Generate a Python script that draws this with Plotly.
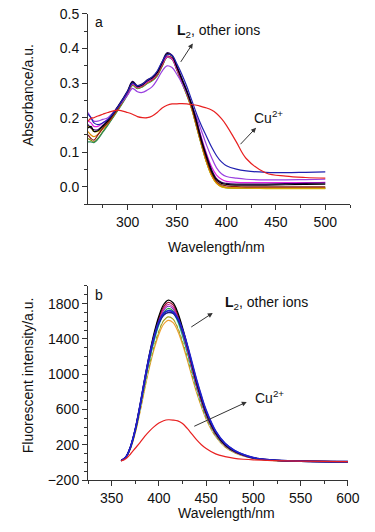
import plotly.graph_objects as go

# ---------------- Panel a: absorbance ----------------
wl_a = [260, 263, 266, 270, 275, 280, 290, 300, 305, 310, 315, 320, 325, 330, 335, 340, 345,
        350, 355, 360, 365, 370, 375, 380, 385, 390, 395, 400, 410, 420, 440, 460, 480, 500]

abs_black = [0.17, 0.175, 0.16, 0.162, 0.175, 0.19, 0.23, 0.275, 0.303, 0.29, 0.295, 0.307, 0.315, 0.33, 0.358, 0.385, 0.378,
             0.345, 0.31, 0.275, 0.235, 0.185, 0.13, 0.085, 0.045, 0.02, 0.01, 0.007, 0.005, 0.005, 0.005, 0.006, 0.007, 0.008]
abs_darkred = [0.15, 0.14, 0.135, 0.15, 0.17, 0.185, 0.225, 0.27, 0.298, 0.288, 0.292, 0.303, 0.31, 0.325, 0.352, 0.378, 0.372,
               0.34, 0.305, 0.27, 0.23, 0.178, 0.125, 0.078, 0.04, 0.016, 0.006, 0.003, 0.001, 0.0, 0.0, 0.0, 0.0, 0.0]
abs_olive = [0.14, 0.135, 0.13, 0.14, 0.16, 0.18, 0.222, 0.268, 0.295, 0.285, 0.29, 0.3, 0.308, 0.322, 0.35, 0.375, 0.37,
             0.338, 0.302, 0.266, 0.225, 0.172, 0.12, 0.072, 0.035, 0.012, 0.002, -0.002, -0.003, -0.003, -0.004, -0.004, -0.004, -0.004]
abs_yellow = [0.175, 0.17, 0.16, 0.16, 0.17, 0.185, 0.225, 0.27, 0.297, 0.287, 0.292, 0.302, 0.31, 0.325, 0.352, 0.377, 0.372,
              0.34, 0.303, 0.267, 0.226, 0.174, 0.12, 0.07, 0.032, 0.01, 0.0, -0.003, -0.004, -0.004, -0.005, -0.005, -0.005, -0.005]
abs_green = [0.13, 0.13, 0.128, 0.138, 0.158, 0.178, 0.22, 0.266, 0.293, 0.284, 0.289, 0.299, 0.307, 0.321, 0.349, 0.374, 0.369,
             0.337, 0.301, 0.265, 0.224, 0.171, 0.118, 0.07, 0.033, 0.011, 0.001, -0.003, -0.004, -0.004, -0.004, -0.004, -0.004, -0.004]
abs_orange = [0.16, 0.15, 0.145, 0.152, 0.168, 0.183, 0.224, 0.269, 0.296, 0.286, 0.291, 0.301, 0.309, 0.324, 0.351, 0.376, 0.371,
              0.339, 0.303, 0.267, 0.226, 0.173, 0.12, 0.071, 0.034, 0.011, 0.001, -0.002, -0.003, -0.003, -0.003, -0.003, -0.003, -0.003]
abs_indigo = [0.18, 0.17, 0.165, 0.165, 0.178, 0.192, 0.232, 0.278, 0.305, 0.293, 0.298, 0.31, 0.318, 0.333, 0.362, 0.388, 0.381,
              0.349, 0.314, 0.279, 0.239, 0.19, 0.136, 0.09, 0.05, 0.024, 0.013, 0.01, 0.008, 0.008, 0.008, 0.009, 0.01, 0.011]
abs_magenta = [0.19, 0.185, 0.175, 0.175, 0.185, 0.195, 0.23, 0.272, 0.298, 0.288, 0.293, 0.304, 0.312, 0.328, 0.355, 0.376, 0.37,
               0.34, 0.307, 0.273, 0.235, 0.19, 0.14, 0.095, 0.058, 0.034, 0.022, 0.016, 0.013, 0.012, 0.012, 0.012, 0.012, 0.013]
abs_navy = [0.21, 0.2, 0.185, 0.18, 0.185, 0.195, 0.23, 0.275, 0.3, 0.292, 0.297, 0.308, 0.318, 0.335, 0.362, 0.382, 0.38,
            0.355, 0.325, 0.29, 0.25, 0.21, 0.175, 0.145, 0.115, 0.09, 0.072, 0.061, 0.051, 0.046, 0.042, 0.041, 0.042, 0.043]
abs_violet = [0.215, 0.2, 0.19, 0.19, 0.195, 0.2, 0.23, 0.265, 0.285, 0.275, 0.273, 0.28, 0.29, 0.31, 0.335, 0.35, 0.345,
              0.325, 0.3, 0.27, 0.235, 0.2, 0.16, 0.12, 0.085, 0.055, 0.038, 0.03, 0.025, 0.022, 0.02, 0.02, 0.021, 0.022]
abs_cu = [0.19, 0.198, 0.2, 0.205, 0.21, 0.215, 0.222, 0.215, 0.21, 0.203, 0.2, 0.2, 0.205, 0.215, 0.228, 0.236, 0.24,
          0.24, 0.241, 0.24, 0.238, 0.236, 0.232, 0.228, 0.222, 0.212, 0.197, 0.178, 0.13, 0.082, 0.04, 0.031, 0.027, 0.025]

series_a = [
    (abs_olive, "#8b8b00"), (abs_green, "#2e8b57"), (abs_yellow, "#d4c400"), (abs_orange, "#e08a00"),
    (abs_darkred, "#8b1a1a"), (abs_magenta, "#e020e0"), (abs_violet, "#9a40e0"),
    (abs_indigo, "#2a0060"), (abs_black, "#000000"), (abs_navy, "#2020b0"), (abs_cu, "#e82020"),
]

# ---------------- Panel b: fluorescence ----------------
wl_b = [360, 365, 370, 375, 380, 385, 390, 395, 400, 405, 410, 415, 420, 425, 430, 435, 440, 445, 450,
        460, 470, 480, 490, 500, 520, 550, 600]

fl_black = [20, 60, 180, 380, 650, 950, 1230, 1470, 1660, 1790, 1840, 1810, 1700, 1530, 1330, 1110, 900, 720, 560, 335, 200, 125, 80, 50, 25, 14, 8]
fl_darkred = [20, 59, 177, 375, 641, 937, 1213, 1449, 1637, 1765, 1815, 1785, 1676, 1509, 1311, 1094, 887, 710, 552, 330, 197, 123, 79, 49, 25, 14, 8]
fl_magenta = [20, 58, 175, 370, 632, 924, 1197, 1430, 1615, 1742, 1790, 1761, 1654, 1489, 1294, 1080, 876, 701, 545, 326, 195, 122, 78, 49, 24, 14, 8]
fl_purple = [19, 58, 173, 366, 625, 914, 1183, 1414, 1597, 1722, 1770, 1741, 1635, 1472, 1279, 1068, 866, 693, 539, 322, 192, 120, 77, 48, 24, 13, 8]
fl_green = [19, 57, 171, 360, 616, 901, 1166, 1394, 1574, 1697, 1745, 1716, 1612, 1450, 1261, 1052, 853, 683, 531, 318, 190, 119, 76, 47, 24, 13, 8]
fl_cyan = [19, 56, 169, 356, 609, 891, 1153, 1378, 1556, 1678, 1725, 1697, 1594, 1434, 1247, 1041, 844, 675, 525, 314, 188, 117, 75, 47, 23, 13, 8]
fl_white = [18, 55, 164, 347, 593, 867, 1123, 1342, 1516, 1634, 1680, 1653, 1552, 1397, 1214, 1013, 822, 657, 511, 306, 183, 114, 73, 46, 23, 13, 7]
fl_olive = [18, 54, 161, 341, 583, 852, 1103, 1319, 1489, 1606, 1650, 1624, 1525, 1372, 1193, 996, 807, 646, 502, 300, 179, 112, 72, 45, 22, 13, 7]
fl_orange = [18, 53, 158, 333, 569, 831, 1076, 1286, 1453, 1566, 1610, 1584, 1488, 1339, 1164, 971, 788, 630, 490, 293, 175, 109, 70, 44, 22, 12, 7]
fl_navy = [20, 58, 172, 365, 630, 930, 1200, 1420, 1580, 1670, 1700, 1690, 1620, 1490, 1320, 1120, 920, 740, 580, 350, 212, 133, 85, 53, 26, 14, 8]
fl_blue = [20, 60, 178, 375, 645, 945, 1215, 1430, 1600, 1690, 1720, 1705, 1635, 1505, 1335, 1135, 935, 755, 592, 357, 215, 135, 86, 54, 26, 14, 8]
fl_cu = [15, 40, 95, 160, 225, 295, 355, 405, 445, 472, 483, 480, 470, 440, 385, 320, 255, 200, 158, 96, 65, 46, 35, 28, 20, 14, 9]

series_b = [
    (fl_orange, "#f0a030", 1.2, "solid"), (fl_olive, "#a0a020", 1.2, "solid"), (fl_white, "#f4f4ff", 1.2, "dot"),
    (fl_cyan, "#20c0d0", 1.2, "solid"), (fl_green, "#20a040", 1.2, "solid"), (fl_purple, "#8030c0", 1.2, "solid"),
    (fl_magenta, "#d020a0", 1.2, "solid"), (fl_darkred, "#a01030", 1.2, "solid"), (fl_black, "#000000", 1.2, "solid"),
    (fl_navy, "#1a1a80", 1.6, "solid"), (fl_blue, "#2020d0", 1.6, "solid"), (fl_cu, "#e82020", 1.2, "solid"),
]

fig = go.Figure()
for ys, col in series_a:
    fig.add_trace(go.Scatter(x=wl_a, y=ys, mode="lines", line=dict(color=col, width=1.2, shape="spline"),
                             xaxis="x", yaxis="y", showlegend=False, hoverinfo="skip"))
for ys, col, w, d in series_b:
    fig.add_trace(go.Scatter(x=wl_b, y=ys, mode="lines", line=dict(color=col, width=w, dash=d, shape="spline"),
                             xaxis="x2", yaxis="y2", showlegend=False, hoverinfo="skip"))

FONT = "Liberation Sans, Arial, sans-serif"
axis_common = dict(showline=True, linecolor="#333", linewidth=1, ticks="outside", ticklen=5, tickwidth=1,
                   tickcolor="#333", showgrid=False, zeroline=False, tickfont=dict(size=14, color="#111", family=FONT),
                   ticklabeloverflow="allow", automargin=False,
                   minor=dict(ticks="outside", ticklen=3, tickcolor="#333", showgrid=False))

# the page body has an 8px default margin: shift the margins to compensate
fig.update_layout(
    width=375, height=532, margin=dict(l=80, r=33, t=2, b=60, autoexpand=False),
    paper_bgcolor="white", plot_bgcolor="white", font=dict(family=FONT, size=14, color="#111"),
    xaxis=dict(axis_common, domain=[0, 1], range=[260, 525], tickvals=[300, 350, 400, 450, 500],
               minor=dict(axis_common["minor"], dtick=25, tick0=275), anchor="y"),
    yaxis=dict(axis_common, domain=[0.587, 0.9915], range=[-0.05, 0.5], tickvals=[0, 0.1, 0.2, 0.3, 0.4, 0.5],
               tickformat=".1f", minor=dict(axis_common["minor"], dtick=0.05, tick0=0), anchor="x"),
    xaxis2=dict(axis_common, domain=[0, 0.992], range=[325, 600], tickvals=[350, 400, 450, 500, 550, 600],
                minor=dict(axis_common["minor"], dtick=25, tick0=325), anchor="y2"),
    yaxis2=dict(axis_common, domain=[0, 0.4128], range=[-200, 2000], tickvals=[-200, 200, 600, 1000, 1400, 1800],
                minor=dict(axis_common["minor"], dtick=100, tick0=0), anchor="x2"),
)

C = dict(xanchor="center", yanchor="middle")
L = dict(xanchor="left", yanchor="middle")
arrow = dict(text="", showarrow=True, arrowhead=2, arrowsize=1, arrowwidth=1, arrowcolor="#333", axref="pixel", ayref="pixel")
ann = [
    # panel a
    dict(x=271, y=0.478, xref="x", yref="y", text="a", showarrow=False, font=dict(size=14), **C),
    dict(x=348, y=0.452, xref="x", yref="y", text="<b>L</b><sub>2</sub>, other ions", showarrow=False,
         font=dict(size=14), **L),
    dict(x=426, y=0.202, xref="x", yref="y", text="Cu<sup>2+</sup>", showarrow=False, font=dict(size=14), **L),
    dict(x=366, y=0.415, xref="x", yref="y", ax=-13, ay=20, **arrow),
    dict(x=430, y=0.171, xref="x", yref="y", ax=-17, ay=18, **arrow),
    # panel b
    dict(x=336.6, y=1898, xref="x2", yref="y2", text="b", showarrow=False, font=dict(size=14), **C),
    dict(x=468, y=1807, xref="x2", yref="y2", text="<b>L</b><sub>2</sub>, other ions", showarrow=False,
         font=dict(size=14), **L),
    dict(x=499.5, y=741, xref="x2", yref="y2", text="Cu<sup>2+</sup>", showarrow=False, font=dict(size=14), **L),
    dict(x=457, y=1694, xref="x2", yref="y2", ax=-23, ay=15, **arrow),
    dict(x=493, y=685, xref="x2", yref="y2", ax=-54, ay=25, **arrow),
    # axis titles
    dict(x=-0.229, y=0.819, xref="paper", yref="paper", text="Absorbance/a.u.", textangle=-90, showarrow=False,
         font=dict(size=14), **C),
    dict(x=0.492, y=0.496, xref="paper", yref="paper", text="Wavelength/nm", showarrow=False, font=dict(size=14), **C),
    dict(x=-0.229, y=0.223, xref="paper", yref="paper", text="Fluorescent intensity/a.u.", textangle=-90,
         showarrow=False, font=dict(size=14), **C),
    dict(x=0.527, y=-0.070, xref="paper", yref="paper", text="Wavelength/nm", showarrow=False, font=dict(size=14), **C),
]
fig.update_layout(annotations=ann)

fig.write_html("out.html")
